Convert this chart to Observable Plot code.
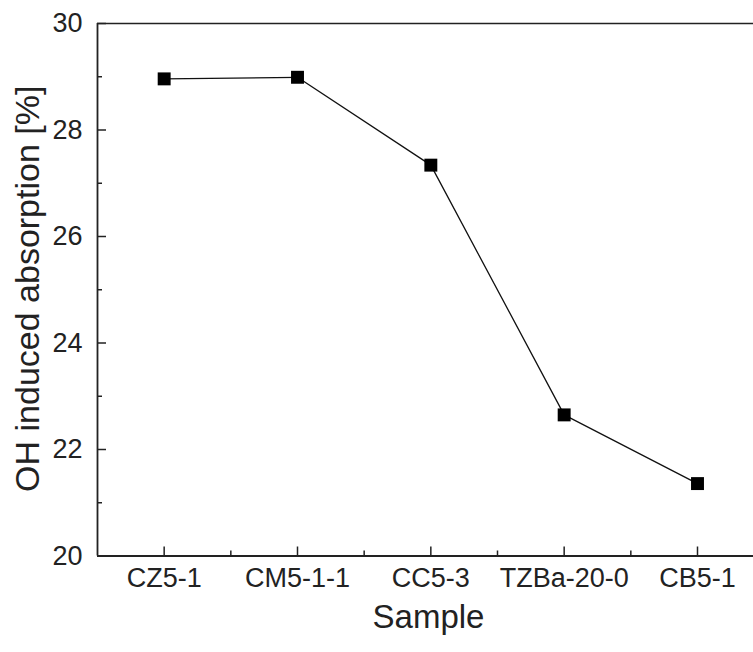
<!DOCTYPE html>
<html>
<head>
<meta charset="utf-8">
<script src="https://cdn.jsdelivr.net/npm/d3@7"></script>
<script src="https://cdn.jsdelivr.net/npm/@observablehq/plot@0.6"></script>
<style>
  html, body { margin: 0; padding: 0; background: #fff; }
  svg { display: block; }
</style>
</head>
<body>
<div id="chart"></div>
<script>
const samples = ["CZ5-1", "CM5-1-1", "CC5-3", "TZBa-20-0", "CB5-1"];
const absorption = [28.96, 28.99, 27.34, 22.65, 21.36];
const xMajor = [1, 2, 3, 4, 5];
const xMinor = [1.5, 2.5, 3.5, 4.5];
const yMajor = [20, 22, 24, 26, 28, 30];
const yMinor = [21, 23, 25, 27, 29];

const data = samples.map((s, i) => ({i: i + 1, sample: s, value: absorption[i]}));

const W = 753, H = 652;
const mL = 97, mT = 23, mB = 96.5, mR = 0;
const frameW = W - mL - mR, frameH = H - mT - mB;
const axisColor = "#222";
const font = "Liberation Sans, Arial, sans-serif";

const chart = Plot.plot({
  width: W,
  height: H,
  marginLeft: mL,
  marginTop: mT,
  marginBottom: mB,
  marginRight: mR,
  style: {fontFamily: font, background: "#fff", color: axisColor},
  x: {domain: [0.5, 5.42], axis: null},
  y: {domain: [20, 30], axis: null},
  marks: [
    Plot.ruleY([30], {stroke: axisColor, strokeWidth: 1.6}),
    Plot.tickX(xMajor, {x: d => d, insetTop: frameH - 9, stroke: axisColor, strokeWidth: 1.5}),
    Plot.tickX(xMinor, {x: d => d, insetTop: frameH - 5, stroke: axisColor, strokeWidth: 1.5}),
    Plot.tickY(yMajor, {y: d => d, insetRight: frameW - 9, stroke: axisColor, strokeWidth: 1.5}),
    Plot.tickY(yMinor, {y: d => d, insetRight: frameW - 5, stroke: axisColor, strokeWidth: 1.5}),
    Plot.ruleY([20], {stroke: axisColor, strokeWidth: 1.8}),
    Plot.ruleX([0.5], {stroke: axisColor, strokeWidth: 1.8}),
    Plot.axisY(yMajor, {tickSize: 0, tickPadding: 15, fontSize: 27, label: null, anchor: "left",
      tickFormat: d => String(d), color: axisColor}),
    Plot.axisX(xMajor, {tickSize: 0, tickPadding: 12, fontSize: 27, label: null, anchor: "bottom",
      tickFormat: d => samples[d - 1], color: axisColor}),
    Plot.text(["OH induced absorption [%]"], {frameAnchor: "left", textAnchor: "middle", lineAnchor: "middle",
      rotate: -90, dx: -69, dy: -1, fontSize: 34, fill: axisColor}),
    Plot.text(["Sample"], {frameAnchor: "bottom", dx: 3, dy: 72, fontSize: 33, fill: axisColor}),
    Plot.line(data, {x: "i", y: "value", stroke: "#111", strokeWidth: 1.3}),
    Plot.dot(data, {x: "i", y: "value", symbol: "square", r: 7.3, fill: "#000", stroke: "none"})
  ]
});
document.getElementById("chart").appendChild(chart);
</script>
</body>
</html>
